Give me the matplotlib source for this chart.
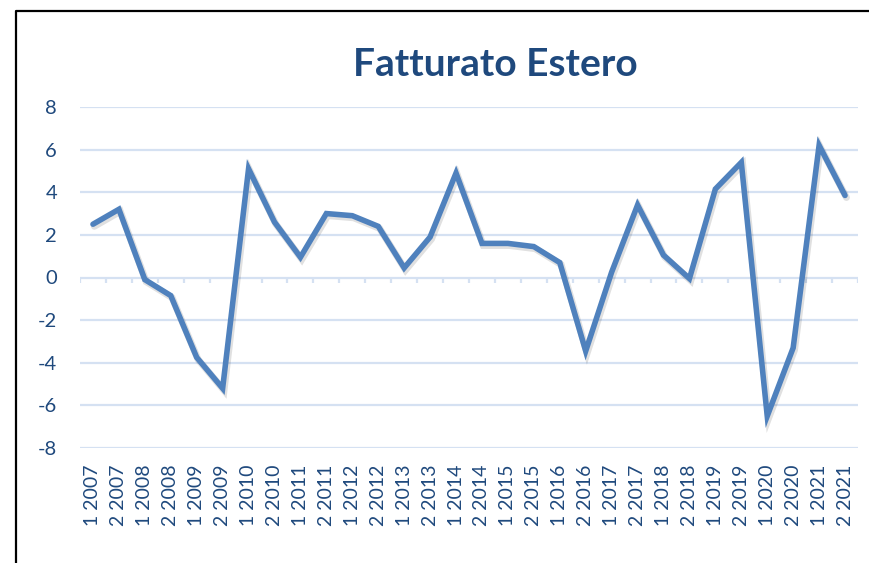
import matplotlib
matplotlib.use("Agg")
import matplotlib.pyplot as plt
import matplotlib.patheffects as pe
from matplotlib.lines import Line2D
import numpy as np

categories = [f"{h} {y}" for y in range(2007, 2022) for h in (1, 2)]
values = [2.5, 3.2, -0.1, -0.85, -3.75, -5.2, 5.1, 2.6, 0.95, 3.0,
          2.9, 2.4, 0.45, 1.9, 4.9, 1.6, 1.6, 1.45, 0.7, -3.45,
          0.25, 3.4, 1.05, -0.05, 4.15, 5.4, -6.5, -3.3, 6.2, 3.85]
yticks = [-8, -6, -4, -2, 0, 2, 4, 6, 8]
title = "Fatturato Estero"

TXT = "#1F497D"
LINE = "#4F81BD"
GRID = "#D5E1F2"

plt.rcParams['font.family'] = ['Lato', 'DejaVu Sans']

fig = plt.figure(figsize=(8.7, 5.63), dpi=100)
ax = fig.add_axes([80/870, 1-448/563, (858-80)/870, (448-107)/563])

x = np.arange(len(categories))
ax.plot(x, values, color=LINE, lw=4.0, solid_joinstyle='miter', solid_capstyle='round', zorder=3,
        path_effects=[pe.SimpleLineShadow(offset=(1, -1.5), shadow_color='#000000', alpha=0.12, linewidth=5.0),
                      pe.Normal()])

ax.set_xlim(-0.5, len(categories) - 0.5)
ax.set_ylim(-8, 8)
ax.set_yticks(yticks)
ax.set_yticklabels([str(v) for v in yticks])
ax.set_xticks(x)
ax.set_xticklabels(categories, rotation=90)
ax.tick_params(axis='both', length=0, labelcolor=TXT, labelsize=14)
ax.tick_params(axis='x', pad=12)
ax.tick_params(axis='y', pad=16.5, labelsize=14.5)
for s in ax.spines.values():
    s.set_visible(False)
for v in yticks:
    ax.axhline(v, color=GRID, lw=1.6, zorder=1)
bounds = np.arange(len(categories) + 1) - 0.5
ax.vlines(bounds, -0.28, 0, color=GRID, lw=1.6, zorder=1)

fig.text(495/870, 1-65/563, title, ha='center', va='center', fontsize=28,
         fontweight='bold', color=TXT)

fig.add_artist(Line2D([16/870, 16/870, 1.0], [0.0, 1-11/563, 1-11/563],
                      transform=fig.transFigure, color='black', lw=1.6))

fig.savefig("out.png", dpi=100)
